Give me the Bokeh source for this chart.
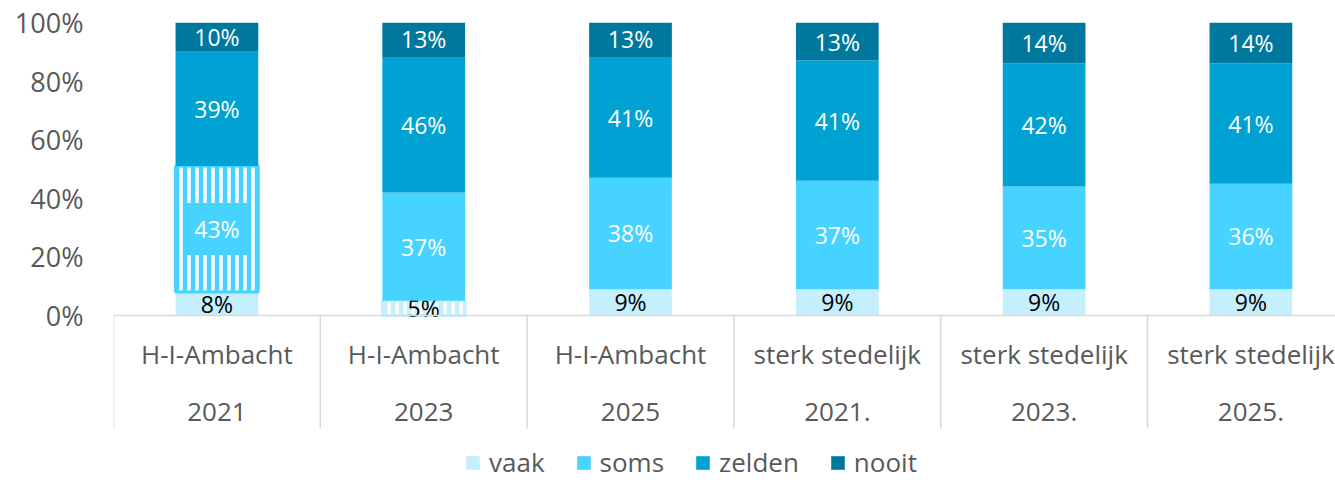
import numpy as np
from bokeh.plotting import figure
from bokeh.models import ColumnDataSource, FixedTicker, Legend, LegendItem, Span
from bokeh.core.properties import value
from bokeh.embed import file_html
from bokeh.resources import INLINE

# ---- data ----
groups = ["H-I-Ambacht", "H-I-Ambacht", "H-I-Ambacht",
          "sterk stedelijk", "sterk stedelijk", "sterk stedelijk"]
years = ["2021", "2023", "2025", "2021.", "2023.", "2025."]
series = ["vaak", "soms", "zelden", "nooit"]
vaak = [8, 5, 9, 9, 9, 9]
soms = [43, 37, 38, 37, 35, 36]
zelden = [39, 46, 41, 41, 42, 41]
nooit = [10, 13, 13, 13, 14, 14]
# segments drawn hatched (low reliability)
vaak_hatched = [False, True, False, False, False, False]
soms_hatched = [True, False, False, False, False, False]
y_ticks = [0, 20, 40, 60, 80, 100]
y_tick_labels = ["0%", "20%", "40%", "60%", "80%", "100%"]

colors = ["#C6EFFD", "#47D3FF", "#00A2D3", "#00789E"]
label_colors = ["#000000", "#FFFFFF", "#FFFFFF", "#FFFFFF"]
FONT = "Open Sans"
GREY = "#595959"

values = [vaak, soms, zelden, nooit]
hatch_flags = [vaak_hatched, soms_hatched, None, None]
n = len(groups)
x = np.arange(n)

p = figure(width=1335, height=480, output_backend="svg", toolbar_location=None,
           x_range=(-0.5, 5.409), y_range=(-56.3, 100),
           x_axis_type=None, min_border_left=113, min_border_right=0,
           min_border_top=22, min_border_bottom=0)
p.outline_line_color = None
p.xgrid.grid_line_color = None
p.ygrid.grid_line_color = None

ax = p.yaxis[0]
ax.ticker = FixedTicker(ticks=y_ticks)
ax.major_label_overrides = {t: l for t, l in zip(y_ticks, y_tick_labels)}
ax.axis_line_color = None
ax.major_tick_line_color = None
ax.minor_tick_line_color = None
ax.major_tick_in = 0
ax.major_tick_out = 0
ax.major_label_standoff = 30
ax.major_label_text_font = FONT
ax.major_label_text_font_size = "27px"
ax.major_label_text_color = GREY

bar_w = 0.40
LBL = "23px"
bottom = np.zeros(n)
legend_items = []
for name, vals, col, lcol, hflags in zip(series, values, colors, label_colors, hatch_flags):
    vals = np.array(vals, dtype=float)
    top = bottom + vals
    src = ColumnDataSource(dict(x=x, bottom=bottom.copy(), top=top))
    r = p.vbar(x="x", bottom="bottom", top="top", width=bar_w, source=src,
               fill_color=col, line_color=None)
    legend_items.append(LegendItem(label=name, renderers=[r]))
    plain_idx = list(range(n))
    idx = []
    if hflags is not None:
        idx = [i for i in range(n) if hflags[i]]
        plain_idx = [i for i in range(n) if not hflags[i]]
        hsrc = ColumnDataSource(dict(x=x[idx], bottom=bottom[idx], top=top[idx]))
        p.vbar(x="x", bottom="bottom", top="top", width=bar_w, source=hsrc,
               fill_color=col, hatch_pattern="vertical_line", hatch_color="white",
               hatch_scale=8, hatch_weight=3.5, line_color=col, line_width=3)
    # labels
    tsrc = ColumnDataSource(dict(x=x[plain_idx], y=(bottom + vals / 2)[plain_idx],
                                 t=[f"{int(v)}%" for v in vals[plain_idx]]))
    p.text(x="x", y="y", text="t", source=tsrc, text_align="center",
           text_baseline="middle", text_color=lcol, text_font=value(FONT),
           text_font_size=LBL)
    if idx:
        bsrc = ColumnDataSource(dict(x=x[idx], y=(bottom + vals / 2)[idx],
                                     t=[f"{int(v)}%" for v in vals[idx]]))
        if name == "soms":
            p.text(x="x", y="y", text="t", source=bsrc, text_align="center",
                   text_baseline="middle", text_color=lcol, text_font=value(FONT),
                   text_font_size=LBL, background_fill_color=col, padding=10)
        else:
            p.text(x="x", y="y", text="t", source=bsrc, text_align="center",
                   text_baseline="middle", text_color=lcol, text_font=value(FONT),
                   text_font_size=LBL)
    bottom = top

# category axis
p.add_layout(Span(location=0, dimension="width", line_color="#D9D9D9", line_width=1.5))
sep_x = np.arange(n) - 0.5
p.segment(x0=sep_x, x1=sep_x, y0=np.zeros(n), y1=np.full(n, -38.6),
          line_color="#D9D9D9", line_width=1.5)
p.text(x=x, y=np.full(n, -13.3), text=groups, text_align="center", text_baseline="middle",
       text_color=GREY, text_font=value(FONT), text_font_size="26px")
p.text(x=x, y=np.full(n, -32.8), text=years, text_align="center", text_baseline="middle",
       text_color=GREY, text_font=value(FONT), text_font_size="26px")

legend = Legend(items=legend_items, orientation="horizontal", location=(351, 0),
                glyph_width=17, glyph_height=17, label_standoff=8, spacing=30,
                padding=0, margin=0, border_line_color=None, background_fill_alpha=0,
                label_text_font=FONT, label_text_font_size="26px", label_text_color=GREY)
p.add_layout(legend, "center")

open("out.html", "w").write(file_html(p, INLINE))
